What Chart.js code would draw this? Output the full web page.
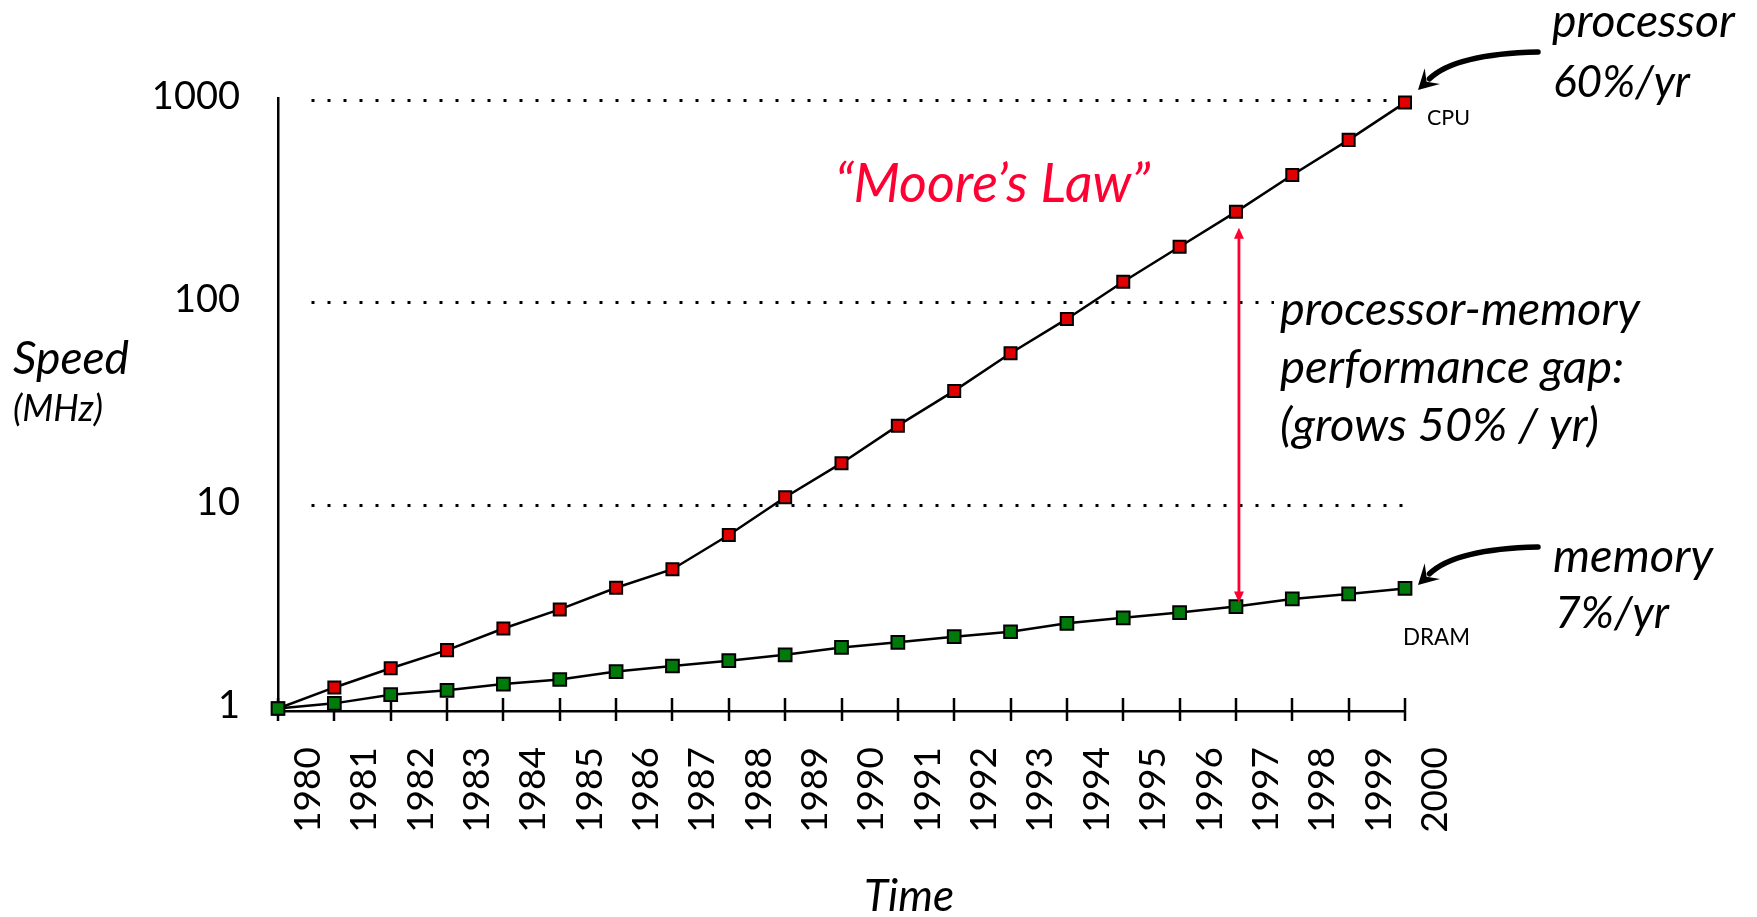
<!DOCTYPE html>
<html>
<head>
<meta charset="utf-8">
<script src="https://cdn.jsdelivr.net/npm/chart.js@4.4.1/dist/chart.umd.min.js"></script>
<style>
  html, body { margin: 0; padding: 0; background: #ffffff; }
  #wrap { width: 1757px; height: 917px; position: relative; }
  canvas { display: block; }
</style>
</head>
<body>
<div id="wrap"><canvas id="chart" width="1757" height="917"></canvas></div>
<script>
// ---- data ----
const years = ['1980','1981','1982','1983','1984','1985','1986','1987','1988','1989','1990',
               '1991','1992','1993','1994','1995','1996','1997','1998','1999','2000'];
const cpuSpeed  = [1.0, 1.27, 1.58, 1.94, 2.48, 3.08, 3.94, 4.86, 7.17, 11.0, 16.2,
                   24.8, 36.8, 56.4, 83.3, 127, 189, 281, 427, 636, 971];
const dramSpeed = [1.0, 1.06, 1.17, 1.23, 1.32, 1.39, 1.52, 1.62, 1.72, 1.84, 2.00,
                   2.12, 2.26, 2.39, 2.63, 2.80, 2.97, 3.18, 3.47, 3.67, 3.91];
const yTickValues = [1, 10, 100, 1000];
const gapYear = '1997';

const FONT = 'Lato, "Open Sans", sans-serif';

function fitText(ctx, text, x, y, w, italic, color, align) {
  const base = 40;
  ctx.font = (italic ? 'italic ' : '') + base + 'px ' + FONT;
  const m = ctx.measureText(text).width;
  const size = base * w / m;
  ctx.font = (italic ? 'italic ' : '') + size.toFixed(2) + 'px ' + FONT;
  ctx.fillStyle = color;
  ctx.textAlign = align || 'left';
  ctx.textBaseline = 'alphabetic';
  ctx.fillText(text, x, y);
}

function curvedArrow(ctx, sx, sy, cx, cy, tx, ty) {
  const ang = Math.atan2(ty - cy, tx - cx);
  const headLen = 20, headHalf = 11;
  const bx = tx - headLen * 0.8 * Math.cos(ang);
  const by = ty - headLen * 0.8 * Math.sin(ang);
  ctx.save();
  ctx.strokeStyle = '#000';
  ctx.fillStyle = '#000';
  ctx.lineCap = 'round';
  ctx.lineWidth = 5.5;
  ctx.beginPath();
  ctx.moveTo(sx, sy);
  ctx.quadraticCurveTo(cx, cy, bx, by);
  ctx.stroke();
  const hx = tx - headLen * Math.cos(ang), hy = ty - headLen * Math.sin(ang);
  ctx.beginPath();
  ctx.moveTo(tx, ty);
  ctx.lineTo(hx + headHalf * Math.sin(ang), hy - headHalf * Math.cos(ang));
  ctx.lineTo(tx - headLen * 0.6 * Math.cos(ang), ty - headLen * 0.6 * Math.sin(ang));
  ctx.lineTo(hx - headHalf * Math.sin(ang), hy + headHalf * Math.cos(ang));
  ctx.closePath();
  ctx.fill();
  ctx.restore();
}

function gridColor(c) {
  if (c.tick && c.tick.value === 1) return 'rgba(0,0,0,0)';
  const chart = c.chart;
  const area = chart && chart.chartArea;
  if (!area) return '#000';
  const g = chart.ctx.createLinearGradient(area.left, 0, area.right, 0);
  const r = 30 / (area.right - area.left);
  g.addColorStop(0, 'rgba(0,0,0,0)');
  g.addColorStop(r, 'rgba(0,0,0,0)');
  g.addColorStop(r, '#000');
  g.addColorStop(1, '#000');
  return g;
}

const crossTicks = {
  id: 'crossTicks',
  beforeDatasetsDraw(chart) {
    const { ctx, scales: { x }, chartArea } = chart;
    ctx.save();
    ctx.strokeStyle = '#000';
    ctx.lineWidth = 2.5;
    x.ticks.forEach((t, i) => {
      const px = Math.round(x.getPixelForTick(i));
      ctx.beginPath();
      ctx.moveTo(px, chartArea.bottom - 13);
      ctx.lineTo(px, chartArea.bottom + 10);
      ctx.stroke();
    });
    ctx.restore();
  }
};

const annotations = {
  id: 'annotations',
  afterDraw(chart) {
    const { ctx, scales: { x, y } } = chart;
    ctx.save();

    // red gap arrow between the two series at 1997
    const gi = years.indexOf(gapYear);
    const gx = x.getPixelForValue(gi) + 3;
    const top = y.getPixelForValue(cpuSpeed[gi]) + 16;
    const bot = y.getPixelForValue(dramSpeed[gi]) - 4;
    ctx.strokeStyle = '#ff0033';
    ctx.fillStyle = '#ff0033';
    ctx.lineWidth = 2.8;
    ctx.beginPath();
    ctx.moveTo(gx, top + 8);
    ctx.lineTo(gx, bot - 8);
    ctx.stroke();
    ctx.beginPath();
    ctx.moveTo(gx, top); ctx.lineTo(gx - 5, top + 11); ctx.lineTo(gx + 5, top + 11); ctx.closePath(); ctx.fill();
    ctx.beginPath();
    ctx.moveTo(gx, bot); ctx.lineTo(gx - 5, bot - 11); ctx.lineTo(gx + 5, bot - 11); ctx.closePath(); ctx.fill();

    // white box behind gap text where it crosses the dotted line
    ctx.fillStyle = '#ffffff';
    ctx.fillRect(1274, 294, 135, 20);

    fitText(ctx, '\u201CMoore\u2019s Law\u201D', 835, 202, 315, true, '#ff0033');
    fitText(ctx, 'processor', 1552, 37, 183, true, '#000');
    fitText(ctx, '60%/yr', 1553, 97, 137, true, '#000');
    fitText(ctx, 'CPU', 1427, 125, 43, false, '#000');
    fitText(ctx, 'processor-memory', 1280, 325, 360, true, '#000');
    fitText(ctx, 'performance gap:', 1280, 383, 344, true, '#000');
    fitText(ctx, '(grows 50% / yr)', 1280, 441, 319, true, '#000');
    fitText(ctx, 'memory', 1553, 572, 160, true, '#000');
    fitText(ctx, '7%/yr', 1555, 628, 114, true, '#000');
    fitText(ctx, 'DRAM', 1403, 645, 67, false, '#000');
    fitText(ctx, 'Speed', 13, 374, 116, true, '#000');
    fitText(ctx, '(MHz)', 13, 421, 90, true, '#000');
    fitText(ctx, 'Time', 864, 911, 90, true, '#000');

    curvedArrow(ctx, 1538, 52, 1455, 54, 1418, 90);
    curvedArrow(ctx, 1538, 547, 1455, 549, 1418, 585);
    ctx.restore();
  }
};

new Chart(document.getElementById('chart'), {
  type: 'line',
  data: {
    labels: years,
    datasets: [
      {
        label: 'DRAM',
        data: dramSpeed,
        borderColor: '#000',
        borderWidth: 2.5,
        pointStyle: 'rect',
        pointRadius: 9,
        pointBackgroundColor: '#007a0a',
        pointBorderColor: '#000',
        pointBorderWidth: 2,
        tension: 0,
        clip: false
      },
      {
        label: 'CPU',
        data: cpuSpeed,
        borderColor: '#000',
        borderWidth: 2.5,
        pointStyle: 'rect',
        pointRadius: 8.5,
        pointBackgroundColor: '#e00000',
        pointBorderColor: '#000',
        pointBorderWidth: 2,
        tension: 0,
        clip: false
      }
    ]
  },
  options: {
    responsive: false,
    animation: false,
    devicePixelRatio: 1,
    layout: { padding: { left: 0, right: 352, top: 98, bottom: 0 } },
    plugins: {
      legend: { display: false },
      tooltip: { enabled: false },
      title: { display: false }
    },
    scales: {
      x: {
        type: 'category',
        offset: false,
        afterFit: (s) => { s.height = 206; },
        grid: { display: true, drawOnChartArea: false, drawTicks: false },
        border: { display: true, color: '#000', width: 2.5 },
        ticks: {
          autoSkip: false,
          maxRotation: 90,
          minRotation: 90,
          labelOffset: 30,
          padding: 36,
          color: '#000',
          font: { family: FONT, size: 37 }
        }
      },
      y: {
        type: 'logarithmic',
        min: 0.972,
        max: 1023,
        afterFit: (s) => { s.width = 278; },
        afterBuildTicks: (s) => { s.ticks = yTickValues.map(v => ({ value: v })); },
        grid: {
          drawTicks: false,
          color: gridColor,
          lineWidth: 3
        },
        border: { display: true, color: '#000', width: 2.5, dash: [3, 13] },
        ticks: {
          padding: 38,
          labelOffset: -3,
          color: '#000',
          font: { family: FONT, size: 38 },
          callback: (v) => String(v)
        }
      }
    }
  },
  plugins: [crossTicks, annotations]
});
</script>
</body>
</html>
